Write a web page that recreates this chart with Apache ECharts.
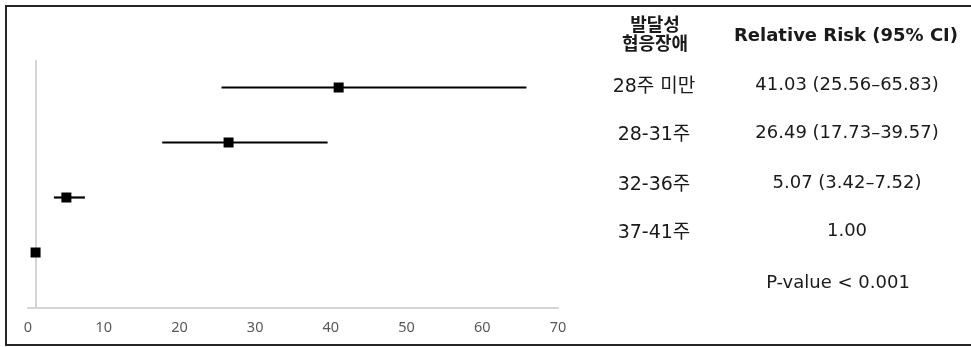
<!DOCTYPE html>
<html>
<head>
<meta charset="utf-8">
<script src="https://cdn.jsdelivr.net/npm/echarts@6/dist/echarts.min.js"></script>
<style>
  html, body { margin: 0; padding: 0; background: #fff; overflow: hidden; }
  #chart { width: 971px; height: 347px; }
</style>
</head>
<body>
<div id="chart"></div>
<script>
// Gestational-age groups and relative risk of developmental coordination disorder
const groups = ['28주 미만', '28-31주', '32-36주', '37-41주'];
const relRisk = [41.03, 26.49, 5.07, 1.00];
const ciLower = [25.56, 17.73, 3.42, null];
const ciUpper = [65.83, 39.57, 7.52, null];
const xTicks = [0, 10, 20, 30, 40, 50, 60, 70];
const headerGroup = ['발달성', '협응장애'];
const headerRR = 'Relative Risk (95% CI)';
const pValueText = 'P-value < 0.001';
const referenceRR = 1;

// Row positions on the vertical value axis (top row first)
const rowY = groups.map((g, i) => groups.length - i);

const rrLabels = relRisk.map((v, i) =>
  ciLower[i] == null ? v.toFixed(2)
    : v.toFixed(2) + ' (' + ciLower[i].toFixed(2) + '–' + ciUpper[i].toFixed(2) + ')');

const chart = echarts.init(document.getElementById('chart'), null, { renderer: 'canvas' });

const labelFont = '"DejaVu Sans", "Noto Sans CJK KR", sans-serif';
const textColor = '#1a1a1a';

// Table text on the right
const groupLabelY = [87, 135, 185, 233];
const rrLabelY = [85, 133, 183, 231];
const tableTexts = [];
headerGroup.forEach((t, i) => {
  tableTexts.push({
    type: 'text', x: 655, y: 24.5 + i * 19,
    style: { text: t, fill: textColor, font: 'bold 18px "Noto Sans CJK KR", sans-serif',
             textAlign: 'center', textVerticalAlign: 'middle' }
  });
});
tableTexts.push({
  type: 'text', x: 846, y: 36,
  style: { text: headerRR, fill: textColor, font: 'bold 18px "DejaVu Sans", sans-serif',
           textAlign: 'center', textVerticalAlign: 'middle' }
});
groups.forEach((g, i) => {
  tableTexts.push({
    type: 'text', x: 654, y: groupLabelY[i],
    style: { text: g, fill: textColor, font: '19px ' + labelFont,
             textAlign: 'center', textVerticalAlign: 'middle' }
  });
  tableTexts.push({
    type: 'text', x: 847, y: rrLabelY[i],
    style: { text: rrLabels[i], fill: textColor, font: '18px ' + labelFont,
             textAlign: 'center', textVerticalAlign: 'middle' }
  });
});
tableTexts.push({
  type: 'text', x: 838, y: 283,
  style: { text: pValueText, fill: textColor, font: '18px ' + labelFont,
           textAlign: 'center', textVerticalAlign: 'middle' }
});

const option = {
  animation: false,
  backgroundColor: '#fff',
  grid: { left: 28, right: 413, top: 60, bottom: 39.5, containLabel: false },
  xAxis: {
    type: 'value', min: xTicks[0], max: xTicks[xTicks.length - 1],
    interval: xTicks[1] - xTicks[0],
    axisLine: { show: true, lineStyle: { color: '#d4d4d4', width: 2 } },
    axisTick: { show: false },
    splitLine: { show: false },
    axisLabel: { color: '#595959', fontSize: 14.5, margin: 13,
                 fontFamily: '"Noto Sans", sans-serif' }
  },
  yAxis: {
    type: 'value', min: 0, max: 4.5,
    show: false
  },
  series: [
    {
      // confidence interval whiskers
      type: 'custom',
      data: groups.map((g, i) => [ciLower[i], ciUpper[i], rowY[i]]).filter(d => d[0] != null),
      renderItem: function (params, api) {
        const a = api.coord([api.value(0), api.value(2)]);
        const b = api.coord([api.value(1), api.value(2)]);
        return {
          type: 'line',
          shape: { x1: a[0], y1: a[1], x2: b[0], y2: b[1] },
          style: { stroke: '#000', lineWidth: 2.2 }
        };
      },
      z: 2
    },
    {
      // point estimates
      type: 'scatter',
      symbol: 'rect',
      symbolSize: 10,
      itemStyle: { color: '#000', opacity: 1 },
      data: relRisk.map((v, i) => [v, rowY[i]]),
      z: 3,
      markLine: {
        silent: true,
        symbol: 'none',
        label: { show: false },
        lineStyle: { color: '#d4d4d4', width: 2, type: 'solid' },
        data: [[{ coord: [referenceRR, 0] }, { coord: [referenceRR, 4.5] }]],
        z: 1
      }
    }
  ],
  graphic: [
    {
      // frame: left, top and bottom edges
      type: 'polyline',
      shape: { points: [[990, 6], [6, 6], [6, 345], [990, 345]] },
      style: { fill: null, stroke: '#262626', lineWidth: 2 },
      z: 10
    }
  ].concat(tableTexts)
};

chart.setOption(option);
</script>
</body>
</html>
